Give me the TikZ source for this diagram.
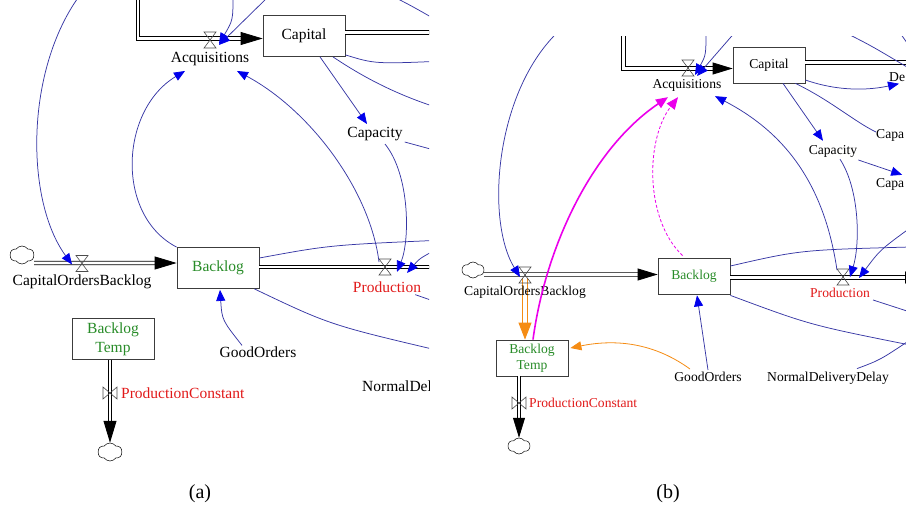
\documentclass[tikz,border=0pt]{standalone}
\usepackage{fontspec}
\setmainfont{Liberation Serif}
\usetikzlibrary{arrows.meta,calc,shapes.symbols}
\definecolor{connc}{RGB}{55,55,165}
\definecolor{tipc}{RGB}{0,0,235}
\definecolor{lvlgreen}{RGB}{40,140,40}
\definecolor{ratered}{RGB}{225,25,25}
\definecolor{magc}{RGB}{235,0,235}
\definecolor{orc}{RGB}{245,140,20}
\definecolor{boxc}{RGB}{60,60,60}
\tikzset{
 conn/.style={draw=connc, line width=0.75pt, -{Triangle[length=11pt,width=9pt,color=tipc]}},
 connplain/.style={draw=connc, line width=0.75pt},
 pipe/.style={draw=black, line width=0.9pt, double=white, double distance=2.6pt},
 flowtipA/.style={line width=0.8pt, -{Triangle[length=22pt,width=13pt]}},
 flowtipB/.style={line width=0.8pt, -{Triangle[length=20pt,width=12pt]}},
 opipe/.style={draw=orc, line width=0.9pt, double=white, double distance=4pt},
 otip/.style={draw=orc, line width=0.9pt, -{Triangle[length=17pt,width=13pt,color=orc]}},
 oconn/.style={draw=orc, line width=0.8pt, -{Triangle[length=11pt,width=9pt,color=orc]}},
 magsolid/.style={draw=magc, line width=1.6pt, -{Triangle[length=12pt,width=10pt,color=magc]}},
 magdash/.style={draw=magc, line width=0.8pt, dash pattern=on 3pt off 2pt, -{Triangle[length=12pt,width=10pt,color=magc]}},
 lvlA/.style={draw=boxc, line width=0.8pt, fill=white, minimum width=82pt, minimum height=41pt, inner sep=1pt, font=\fontsize{15.5}{19}\selectfont, align=center},
 lvlB/.style={draw=boxc, line width=0.8pt, fill=white, minimum width=72pt, minimum height=36pt, inner sep=1pt, font=\fontsize{13.6}{16.5}\selectfont, align=center},
 labA/.style={inner sep=0pt, font=\fontsize{15.5}{17}\selectfont},
 labB/.style={inner sep=0pt, font=\fontsize{13.6}{15}\selectfont},
 cloudA/.style={cloud, cloud puffs=6, cloud puff arc=110, draw=black, line width=0.5pt, fill=white, minimum width=24pt, minimum height=18pt, inner sep=0pt},
 cloudB/.style={cloud, cloud puffs=6, cloud puff arc=110, draw=black, line width=0.5pt, fill=white, minimum width=22pt, minimum height=16pt, inner sep=0pt},
 valvest/.style={draw=black!70, line width=0.6pt},
 capt/.style={inner sep=0pt, font=\fontsize{20}{24}\selectfont},
}
\newcommand\myvalveV[1]{\draw[valvest] ($(#1)+(-6,-8)$) -- ($(#1)+(6,-8)$) -- ($(#1)+(-6,8)$) -- ($(#1)+(6,8)$) -- cycle;}
\newcommand\myvalveH[1]{\draw[valvest] ($(#1)+(-7,-6)$) -- ($(#1)+(-7,6)$) -- ($(#1)+(7,-6)$) -- ($(#1)+(7,6)$) -- cycle;}
\begin{document}
\begin{tikzpicture}[x=1pt,y=-1pt]
\useasboundingbox (0,0) rectangle (906,511);
% ================= panel (a) =================
\begin{scope}
\clip (0,0) rectangle (429,480);
\coordinate (vAcqA) at (210,40);
\coordinate (vCobA) at (82,263.5);
\coordinate (vProdA) at (385,267);
\coordinate (vPcA) at (110,393);
\coordinate (topA1) at (138,-5);
\coordinate (cornerA) at (138,38.5);
\coordinate (srcA1) at (80,-5);
\coordinate (srcA2) at (233,-5);
\coordinate (srcA3) at (270,-5);
\coordinate (srcA4) at (445,245);
\node[lvlA] (capA) at (304,36) {Capital};
\node[lvlA, text=lvlgreen] (backA) at (218,268) {Backlog};
\node[lvlA, text=lvlgreen] (tempA) at (113,339) {Backlog\\Temp};
\node[cloudA] (cloudA1) at (22,255) {};
\node[cloudA] (cloudA2) at (110,452) {};
% pipes
\draw[pipe] (topA1) -- (cornerA) -- ($(capA.west)+(-21,2.5)$);
\draw[flowtipA] ($(capA.west)+(-22,2.5)$) -- ($(capA.west)+(0,2.5)$);
\draw[pipe] ($(capA.east)+(0,-3.5)$) -- (445,32.5);
\draw[pipe] ($(cloudA1.east)+(0,8)$) -- ($(backA.west)+(-21,-5)$);
\draw[flowtipA] ($(backA.west)+(-22,-5)$) -- ($(backA.west)+(0,-5)$);
\draw[pipe] ($(backA.east)+(0,-1)$) -- (445,267);
\draw[pipe] ($(tempA.south)+(-3,0)$) -- ($(cloudA2.north)+(0,-21)$);
\draw[flowtipA] ($(cloudA2.north)+(0,-22)$) -- (cloudA2.north);
\myvalveV{vAcqA}
\myvalveV{vCobA}
\myvalveV{vProdA}
\myvalveH{vPcA}
% labels
\node[labA] (acqA) at (210,59) {Acquisitions};
\node[labA] (cobA) at (82,282) {CapitalOrdersBacklog};
\node[labA, text=ratered] (prodA) at (387,287) {Production};
\node[labA] (capyA) at (375,134) {Capacity};
\node[labA] (goodA) at (258,352) {GoodOrders};
\node[labA, anchor=west] (ndA) at (362,388) {NormalDeliveryDelay};
\node[labA, text=ratered, anchor=west] (pcA) at (121,393) {ProductionConstant};
% connectors
\draw[conn] (srcA1) .. controls (25,70) and (25,200) .. ($(vCobA)+(-10,1)$);
\draw[conn] (srcA2) .. controls (233,20) .. ($(vAcqA)+(9,4)$);
\draw[conn] (srcA3) -- ($(vAcqA)+(9,5)$);
\draw[conn] ($(capA.south)+(16,0)$) -- ($(capyA.north)+(-8,-3)$);
\draw[connplain] ($(capA.south east)+(0,-2)$) .. controls (375,64) .. (445,61);
\draw[connplain] ($(capA.south)+(29,0)$) .. controls (360,75) and (395,95) .. (445,110);
\draw[connplain] (390,-5) .. controls (410,5) .. (445,25);
\draw[connplain] ($(capyA.south east)+(2,1)$) -- (445,153);
\draw[conn] (backA.north west) .. controls (115,215) and (120,110) .. ($(acqA.south)+(-25,5)$);
\draw[conn] ($(vProdA)+(-6,-5)$) .. controls (370,190) and (310,110) .. ($(acqA.south)+(27,5)$);
\draw[conn] ($(capyA.south)+(10,3)$) .. controls (410,175) and (410,240) .. ($(vProdA)+(12,5)$);
\draw[conn] (srcA4) .. controls (420,258) .. ($(vProdA)+(22,6)$);
\draw[connplain] ($(backA.east)+(0,-10)$) .. controls (330,245) .. (445,240);
\draw[connplain] ($(backA.south east)+(-5,0)$) .. controls (330,325) .. (445,352);
\draw[conn] ($(goodA.north)+(-16,-1)$) .. controls (222,320) .. ($(backA.south)+(2,1)$);
\draw[connplain] ($(prodA.south east)+(-6,2)$) -- (445,305);
\end{scope}
% ================= panel (b) =================
\begin{scope}
\clip (460,37) rectangle (906,480);
\coordinate (vAcqB) at (688,68);
\coordinate (vCobB) at (525,275);
\coordinate (vProdB) at (843,277);
\coordinate (vPcB) at (519,403);
\coordinate (topB1) at (623.5,30);
\coordinate (cornerB) at (623.5,68.5);
\coordinate (srcB1) at (560,30);
\coordinate (srcB2) at (706,30);
\coordinate (srcB3) at (737,30);
\coordinate (srcB4) at (910,228);
\coordinate (endB1) at (910,247);
\coordinate (endB2) at (910,345);
\node[lvlB] (capB) at (769,65) {Capital};
\node[lvlB, text=lvlgreen] (backB) at (694,276) {Backlog};
\node[lvlB, text=lvlgreen] (tempB) at (532,358) {Backlog\\Temp};
\node[cloudB] (cloudB1) at (473,270) {};
\node[cloudB] (cloudB2) at (519,446) {};
% pipes
\draw[pipe] (topB1) -- (cornerB) -- ($(capB.west)+(-19,3.5)$);
\draw[flowtipB] ($(capB.west)+(-20,3.5)$) -- ($(capB.west)+(0,3.5)$);
\draw[pipe] ($(capB.east)+(0,-2.5)$) -- (915,62.5);
\draw[pipe] ($(cloudB1.east)+(0,4.5)$) -- ($(backB.west)+(-19,-1.5)$);
\draw[flowtipB] ($(backB.west)+(-20,-1.5)$) -- ($(backB.west)+(0,-1.5)$);
\draw[pipe] ($(backB.east)+(0,1.5)$) -- (906,277.5);
\draw[flowtipB] (905,277.5) -- (925,277.5);
\draw[pipe] ($(tempB.south)+(-13,0)$) -- ($(cloudB2.north)+(0,-19)$);
\draw[flowtipB] ($(cloudB2.north)+(0,-20)$) -- (cloudB2.north);
\draw[opipe] ($(vCobB)+(0,3)$) -- ($(tempB.north)+(-7,-16)$);
\draw[otip] ($(tempB.north)+(-7,-17)$) -- ($(tempB.north)+(-7,0)$);
\myvalveV{vAcqB}
\myvalveV{vCobB}
\myvalveV{vProdB}
\myvalveH{vPcB}
% labels
\node[labB] (acqB) at (687,85) {Acquisitions};
\node[labB] (cobB) at (525,292) {CapitalOrdersBacklog};
\node[labB, text=ratered] (prodB) at (840,293) {Production};
\node[labB] (capyB) at (833,151) {Capacity};
\node[labB, anchor=west] (deB) at (889,77) {De};
\node[labB, anchor=west] (capa1B) at (876,135) {Capa};
\node[labB, anchor=west] (capa2B) at (876,184) {Capa};
\node[labB] (goodB) at (708,377) {GoodOrders};
\node[labB] (ndB) at (828,378) {NormalDeliveryDelay};
\node[labB, text=ratered, anchor=west] (pcB) at (529,403) {ProductionConstant};
% connectors
\draw[conn] (srcB1) .. controls (495,90) and (485,220) .. ($(vCobB)+(-5,2)$);
\draw[conn] (srcB2) .. controls (706,55) .. ($(vAcqB)+(7,7)$);
\draw[conn] (srcB3) -- ($(vAcqB)+(9,8)$);
\draw[connplain] (840,30) .. controls (870,45) .. (912,70);
\draw[connplain] (898,30) .. controls (905,40) .. (912,50);
\draw[conn] ($(capB.south)+(14,0)$) -- ($(capyB.north)+(-10,-4)$);
\draw[conn] ($(capB.east)+(0,15)$) .. controls (840,92) and (870,90) .. ($(deB.south west)+(10,2)$);
\draw[connplain] ($(capB.south east)+(-10,0)$) .. controls (830,100) and (855,122) .. ($(capa1B.west)+(0,-3)$);
\draw[conn] ($(capyB.east)+(1,9)$) -- ($(capa2B.north)+(12,-3)$);
\draw[conn] ($(capyB.south)+(7,2)$) .. controls (860,190) and (860,245) .. ($(vProdB)+(7,0)$);
\draw[conn] (srcB4) .. controls (880,250) .. ($(vProdB)+(16,1)$);
\draw[conn] ($(vProdB)+(-6,-7)$) .. controls (825,190) and (790,135) .. ($(acqB.south)+(28,5)$);
\draw[magsolid] ($(tempB.north)+(1,0)$) .. controls (545,250) and (590,150) .. ($(acqB.south)+(-19,6)$);
\draw[magdash] ($(backB.north west)+(25,-2)$) .. controls (645,220) and (645,140) .. ($(acqB.south)+(-9,6)$);
\draw[oconn] ($(goodB.north)+(-18,-3)$) .. controls (650,340) and (610,340) .. ($(tempB.east)+(2,-10)$);
\draw[conn] ($(goodB.north)+(0,-2)$) -- ($(backB.south)+(3,1)$);
\draw[connplain] ($(backB.east)+(0,-10)$) .. controls (800,250) .. (endB1);
\draw[connplain] ($(backB.south east)+(0,1)$) .. controls (810,325) .. (endB2);
\draw[connplain] ($(ndB.north)+(29,-3)$) .. controls (880,360) .. (910,340);
\draw[connplain] ($(prodB.south east)+(3,2)$) -- (910,312);
\end{scope}
% captions
\node[capt] (capta) at (200,494) {(a)};
\node[capt] (captb) at (668,494) {(b)};
\end{tikzpicture}
\end{document}
